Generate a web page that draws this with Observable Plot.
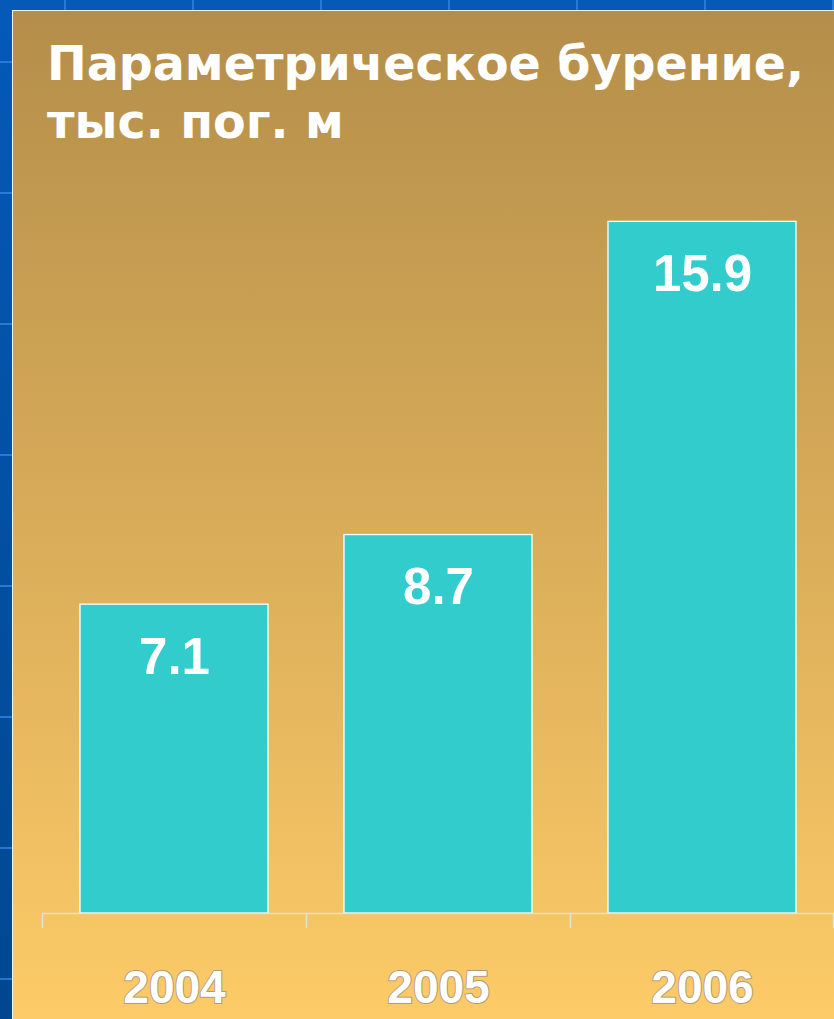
<!DOCTYPE html>
<html>
<head>
<meta charset="utf-8">
<script src="https://cdn.jsdelivr.net/npm/d3@7"></script>
<script src="https://cdn.jsdelivr.net/npm/@observablehq/plot@0.6"></script>
<style>
  html, body { margin: 0; padding: 0; }
  body {
    width: 834px; height: 1019px; overflow: hidden; position: relative;
    background-color: #0356b0;
    background-image:
      linear-gradient(rgba(50,135,230,.75) 2px, transparent 2px),
      linear-gradient(90deg, rgba(50,135,230,.75) 2px, transparent 2px),
      linear-gradient(#0559b8, #00478f);
    background-size: 128px 131px, 128px 131px, 100% 100%;
    background-position: 0 61px, 64px 0, 0 0;
  }
  #panel {
    position: absolute; left: 12px; top: 10px; width: 822px; height: 1009px;
    box-sizing: border-box;
    border-left: 1.5px solid #f2f2f2; border-top: 1.5px solid #f2f2f2;
    background: linear-gradient(to bottom, #b48e4a 0%, #d6aa58 48%, #fdcb67 100%);
  }
  #title {
    position: absolute; left: 47px; top: 35px;
    font-family: "DejaVu Sans", Verdana, sans-serif; font-weight: bold;
    font-size: 47.5px; line-height: 58px; color: #ffffff; white-space: nowrap;
  }
  #chart { position: absolute; left: 0; top: 0; }
  #chart svg { background: transparent; overflow: visible; }
  #chart g[aria-label="x-axis tick label"] text {
    stroke: #b09c7c; stroke-width: 2px; paint-order: stroke; stroke-linejoin: round;
  }
</style>
</head>
<body>
<div id="panel"></div>
<div id="chart"></div>
<div id="title">Параметрическое бурение,<br>тыс. пог. м</div>
<script>
const years = ["2004", "2005", "2006"];
const values = [7.1, 8.7, 15.9];
const valueLabels = ["7.1", "8.7", "15.9"];

const data = years.map((year, i) => ({year, value: values[i], label: valueLabels[i]}));

const W = 834, H = 1019;
const marginLeft = 42, marginRight = 0;
const step = (W - marginLeft - marginRight) / years.length;

const chart = Plot.plot({
  width: W,
  height: H,
  marginLeft,
  marginRight,
  marginTop: 217,
  marginBottom: 106,
  style: {background: "transparent", overflow: "visible"},
  x: {domain: years, paddingInner: 0.288, paddingOuter: 0.144, align: 0.5, label: null},
  y: {domain: [0, 16], axis: null},
  marks: [
    Plot.barY(data, {x: "year", y: "value", fill: "#33cccc", stroke: "#ffffff", strokeWidth: 1.3}),
    Plot.ruleY([0], {stroke: "#e2e0dc", strokeWidth: 1.5}),
    Plot.ruleX(years, {x: d => d, y1: 0, y2: 0, insetBottom: -15, dx: -step / 2, stroke: "#e2e0dc", strokeWidth: 1.5}),
    Plot.ruleX([years[years.length - 1]], {x: d => d, y1: 0, y2: 0, insetBottom: -15, dx: step / 2 - 1, stroke: "#e2e0dc", strokeWidth: 1.5}),
    Plot.text(data, {
      x: "year", y: "value", text: "label", dy: 53,
      fill: "#ffffff", fontSize: 51, fontWeight: "bold",
      fontFamily: "'Liberation Sans', Arial, sans-serif"
    }),
    Plot.axisX({
      label: null,
      tickSize: 0, tickPadding: 57, fontSize: 46, fontWeight: "bold",
      fontFamily: "'Liberation Sans', Arial, sans-serif", color: "#ffffff"
    })
  ]
});
document.getElementById("chart").appendChild(chart);
</script>
</body>
</html>
